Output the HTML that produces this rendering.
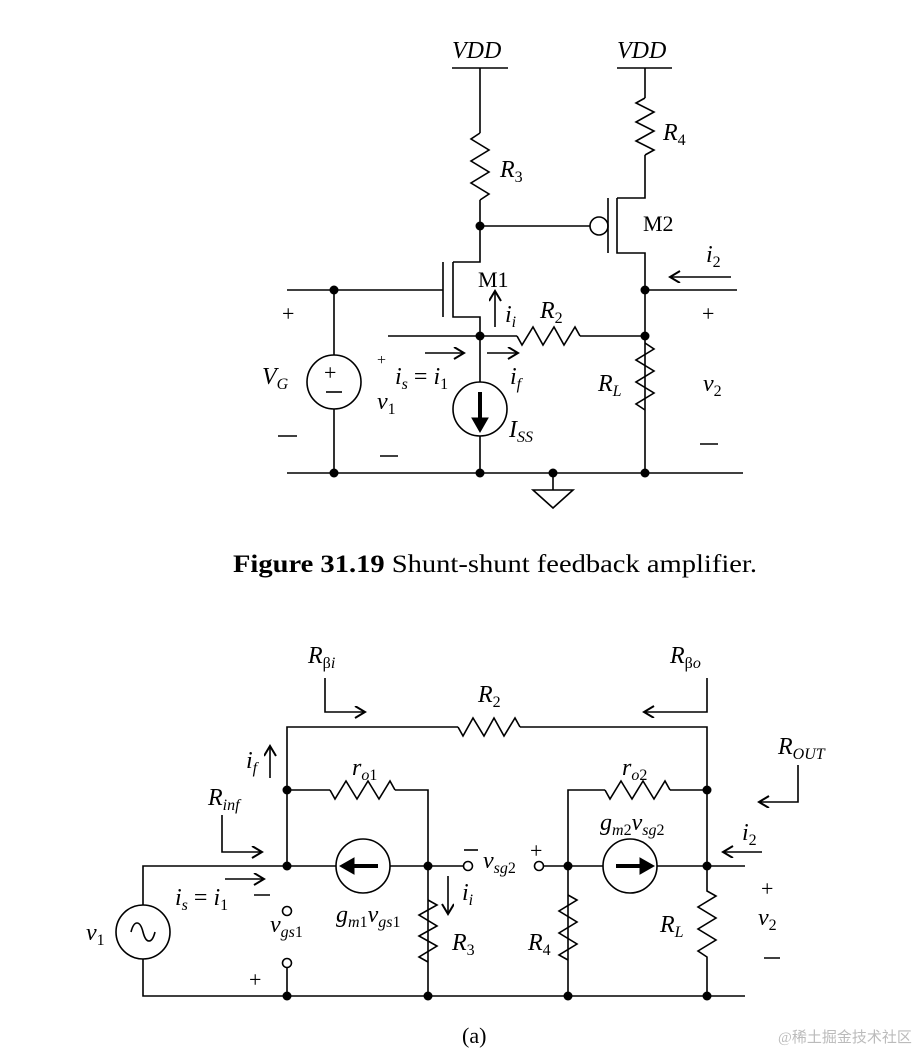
<!DOCTYPE html>
<html><head><meta charset="utf-8"><style>
body{margin:0;background:#fff}
svg{display:block}
text{font-family:"Liberation Serif",serif;fill:#000}
.i{font-style:italic;font-size:24px}
.s{font-size:16px}
.n{font-size:22px}
</style></head><body>
<svg width="912" height="1056" viewBox="0 0 912 1056" xmlns="http://www.w3.org/2000/svg">
<defs>
<marker id="a" markerWidth="14" markerHeight="14" refX="11" refY="6" orient="auto" markerUnits="userSpaceOnUse">
<path d="M1,0 L11,6 L1,12" fill="none" stroke="#000" stroke-width="2"/>
</marker>
</defs>
<g stroke="#000" stroke-width="1.6" fill="none">
<path d="M452 68H508 M617 68H672"/>
<path d="M480 68V133 M480 200V262H453 M453 262V317H480V336"/>
<path d="M480 133 L471 139 L489 150 L471 161 L489 172 L471 183 L489 194 L480 200"/>
<path d="M645 68V98 M645 155V198H617 M617 198V253H645V473"/>
<path d="M645 98 L636 103 L654 112 L636 122 L654 131 L636 141 L654 150 L645 155"/>
<path d="M443 262V317 M608 198V253"/>
<path d="M480 226H590"/>
<circle cx="599" cy="226" r="9"/>
<path d="M287 290H443 M334 290V355 M334 409V473"/>
<circle cx="334" cy="382" r="27"/>
<path d="M388 336H480 M480 336V382 M480 436V473 M480 336H517 M580 336H645"/>
<path d="M517 336 L522 345 L533 327 L543 345 L554 327 L564 345 L575 327 L580 336"/>
<circle cx="480" cy="409" r="27"/>
<path d="M645 290H737"/>
<path d="M645 343 L654 349 L636 360 L654 371 L636 382 L654 393 L636 404 L645 410"/>
<path d="M287 473H743 M553 473V490 M533 490H573L553 508Z"/>
<path d="M425 353H464" marker-end="url(#a)"/>
<path d="M487 353H518" marker-end="url(#a)"/>
<path d="M495 327V291" marker-end="url(#a)"/>
<path d="M731 277H670" marker-end="url(#a)"/>
<path d="M287 867V727H458 M520 727H707V867"/>
<path d="M458 727 L463 736 L473 718 L484 736 L494 718 L504 736 L515 718 L520 727"/>
<path d="M287 790H330 M395 790H428V996"/>
<path d="M330 790 L335 799 L346 781 L357 799 L368 781 L379 799 L390 781 L395 790"/>
<path d="M707 790H670 M605 790H568V996"/>
<path d="M605 790 L610 799 L621 781 L632 799 L643 781 L654 799 L665 781 L670 790"/>
<path d="M143 905V866H336 M390 866H464 M544 866H603 M657 866H745"/>
<circle cx="363" cy="866" r="27"/>
<circle cx="630" cy="866" r="27"/>
<circle cx="468" cy="866" r="4.5"/>
<circle cx="539" cy="866" r="4.5"/>
<circle cx="287" cy="911" r="4.5"/>
<circle cx="287" cy="963" r="4.5"/>
<path d="M287 968V996 M143 959V996H745"/>
<circle cx="143" cy="932" r="27"/>
<path d="M131 932 C134 920,140 920,143 932 C146 944,152 944,155 932"/>
<path d="M428 900 L437 905 L419 915 L437 926 L419 936 L437 946 L419 957 L428 962"/>
<path d="M568 895 L577 900 L559 911 L577 922 L559 933 L577 944 L559 955 L568 960"/>
<path d="M707 866V891 L716 896 L698 907 L716 918 L698 929 L716 940 L698 951 L707 957 V996"/>
<path d="M325 678V712H365" marker-end="url(#a)"/>
<path d="M707 678V712H644" marker-end="url(#a)"/>
<path d="M798 765V802H759" marker-end="url(#a)"/>
<path d="M222 815V852H262" marker-end="url(#a)"/>
<path d="M270 778V746" marker-end="url(#a)"/>
<path d="M225 879H264" marker-end="url(#a)"/>
<path d="M448 876V914" marker-end="url(#a)"/>
<path d="M762 852H723" marker-end="url(#a)"/>
</g>
<g stroke="#000" stroke-width="4" fill="#000">
<path d="M480 392V420" /><path d="M472 418L480 432L488 418Z" stroke-width="1"/>
<path d="M378 866H352"/><path d="M354 858L340 866L354 874Z" stroke-width="1"/>
<path d="M616 866H642"/><path d="M640 858L654 866L640 874Z" stroke-width="1"/>
</g>
<g fill="#000">
<circle cx="480" cy="226" r="4.5"/><circle cx="334" cy="290" r="4.5"/><circle cx="645" cy="290" r="4.5"/>
<circle cx="480" cy="336" r="4.5"/><circle cx="645" cy="336" r="4.5"/>
<circle cx="334" cy="473" r="4.5"/><circle cx="480" cy="473" r="4.5"/><circle cx="553" cy="473" r="4.5"/><circle cx="645" cy="473" r="4.5"/>
<circle cx="287" cy="790" r="4.5"/><circle cx="707" cy="790" r="4.5"/>
<circle cx="287" cy="866" r="4.5"/><circle cx="428" cy="866" r="4.5"/><circle cx="568" cy="866" r="4.5"/><circle cx="707" cy="866" r="4.5"/>
<circle cx="287" cy="996" r="4.5"/><circle cx="428" cy="996" r="4.5"/><circle cx="568" cy="996" r="4.5"/><circle cx="707" cy="996" r="4.5"/>
</g>
<text class="i" x="452" y="58">VDD</text>
<text class="i" x="617" y="58">VDD</text>
<text class="i" x="500" y="177">R<tspan class="s" dy="5" font-style="normal">3</tspan></text>
<text class="i" x="663" y="140">R<tspan class="s" dy="5" font-style="normal">4</tspan></text>
<text class="n" x="643" y="231">M2</text>
<text class="n" x="478" y="287">M1</text>
<text class="i" x="505" y="322">i<tspan class="s" dy="5">i</tspan></text>
<text class="i" x="540" y="318">R<tspan class="s" dy="5" font-style="normal">2</tspan></text>
<text class="i" x="706" y="262">i<tspan class="s" dy="5" font-style="normal">2</tspan></text>
<text class="n" x="282" y="321">+</text>
<text class="n" x="702" y="321">+</text>
<text class="i" x="262" y="384">V<tspan class="s" dy="5">G</tspan></text>
<text class="n" x="324" y="380">+</text>
<path d="M326 392H342" stroke="#000" stroke-width="1.6"/>
<path d="M278 436H297 M380 456H398 M700 444H718" stroke="#000" stroke-width="1.6"/>
<text class="s" x="377" y="365">+</text>
<text class="i" x="395" y="384">i<tspan class="s" dy="5">s</tspan><tspan dy="-5" font-style="normal"> = </tspan>i<tspan class="s" dy="5" font-style="normal">1</tspan></text>
<text class="i" x="377" y="409">v<tspan class="s" dy="5" font-style="normal">1</tspan></text>
<text class="i" x="510" y="384">i<tspan class="s" dy="5">f</tspan></text>
<text class="i" x="509" y="437">I<tspan class="s" dy="5">SS</tspan></text>
<text class="i" x="598" y="391">R<tspan class="s" dy="5">L</tspan></text>
<text class="i" x="703" y="391">v<tspan class="s" dy="5" font-style="normal">2</tspan></text>
<text x="233" y="572" font-size="25" textLength="524" lengthAdjust="spacingAndGlyphs"><tspan font-weight="bold">Figure 31.19</tspan>  Shunt-shunt feedback amplifier.</text>
<text class="i" x="308" y="663">R<tspan class="s" dy="5" font-style="normal">β</tspan><tspan class="s">i</tspan></text>
<text class="i" x="670" y="663">R<tspan class="s" dy="5" font-style="normal">β</tspan><tspan class="s">o</tspan></text>
<text class="i" x="478" y="702">R<tspan class="s" dy="5" font-style="normal">2</tspan></text>
<text class="i" x="778" y="754">R<tspan class="s" dy="5">OUT</tspan></text>
<text class="i" x="246" y="768">i<tspan class="s" dy="5">f</tspan></text>
<text class="i" x="352" y="775">r<tspan class="s" dy="5">o</tspan><tspan class="s" font-style="normal">1</tspan></text>
<text class="i" x="622" y="775">r<tspan class="s" dy="5">o</tspan><tspan class="s" font-style="normal">2</tspan></text>
<text class="i" x="208" y="805">R<tspan class="s" dy="5">inf</tspan></text>
<text class="i" x="600" y="830">g<tspan class="s" dy="5">m</tspan><tspan class="s" font-style="normal">2</tspan><tspan dy="-5">v</tspan><tspan class="s" dy="5">sg</tspan><tspan class="s" font-style="normal">2</tspan></text>
<text class="i" x="742" y="840">i<tspan class="s" dy="5" font-style="normal">2</tspan></text>
<text class="i" x="483" y="868">v<tspan class="s" dy="5">sg</tspan><tspan class="s" font-style="normal">2</tspan></text>
<path d="M464 850H478" stroke="#000" stroke-width="1.6"/>
<text class="n" x="530" y="858">+</text>
<text class="i" x="175" y="905">i<tspan class="s" dy="5">s</tspan><tspan dy="-5" font-style="normal"> = </tspan>i<tspan class="s" dy="5" font-style="normal">1</tspan></text>
<path d="M254 895H270 M764 958H780" stroke="#000" stroke-width="1.6"/>
<text class="i" x="462" y="900">i<tspan class="s" dy="5">i</tspan></text>
<text class="i" x="336" y="922">g<tspan class="s" dy="5">m</tspan><tspan class="s" font-style="normal">1</tspan><tspan dy="-5">v</tspan><tspan class="s" dy="5">gs</tspan><tspan class="s" font-style="normal">1</tspan></text>
<text class="i" x="270" y="932">v<tspan class="s" dy="5">gs</tspan><tspan class="s" font-style="normal">1</tspan></text>
<text class="i" x="452" y="950">R<tspan class="s" dy="5" font-style="normal">3</tspan></text>
<text class="i" x="528" y="950">R<tspan class="s" dy="5" font-style="normal">4</tspan></text>
<text class="i" x="660" y="932">R<tspan class="s" dy="5">L</tspan></text>
<text class="n" x="761" y="896">+</text>
<text class="i" x="758" y="925">v<tspan class="s" dy="5" font-style="normal">2</tspan></text>
<text class="i" x="86" y="940">v<tspan class="s" dy="5" font-style="normal">1</tspan></text>
<text class="n" x="249" y="987">+</text>
<text x="462" y="1043" font-size="22">(a)</text>
<text x="778" y="1042" font-size="15" style="fill:#bbb" font-family="'Liberation Sans','Noto Sans CJK SC',sans-serif">@稀土掘金技术社区</text>
</svg>
</body></html>
